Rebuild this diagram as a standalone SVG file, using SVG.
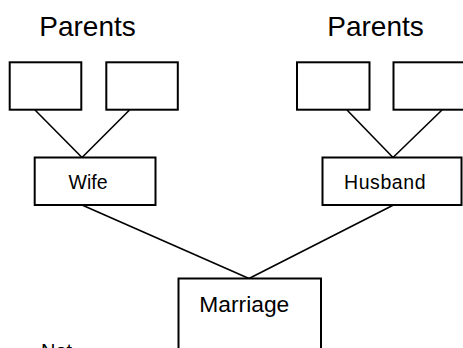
<svg xmlns="http://www.w3.org/2000/svg" width="463" height="348" viewBox="0 0 463 348">
<style>
.box{fill:#fff;stroke:#000;stroke-width:2}
.ln{stroke:#000;stroke-width:1.6;fill:none}
text{font-family:"Liberation Sans",Arial,sans-serif;fill:#000}
.h{font-size:28px;text-anchor:middle}
.l{font-size:19.5px}
</style>
<rect width="463" height="348" fill="#fff"/>
<g id="connectors">
<line class="ln" x1="35" y1="110" x2="82" y2="157.5"/>
<line class="ln" x1="129.5" y1="110" x2="82" y2="157.5"/>
<line class="ln" x1="347" y1="110" x2="393" y2="157.5"/>
<line class="ln" x1="442" y1="110" x2="393" y2="157.5"/>
<line class="ln" x1="82" y1="205" x2="249" y2="278.5"/>
<line class="ln" x1="393.5" y1="205" x2="249" y2="278.5"/>
</g>
<g id="parents-left-label"><text class="h" x="87.5" y="36">Parents</text></g>
<g id="parents-right-label"><text class="h" x="375.5" y="36">Parents</text></g>
<g id="wife-parent1"><rect class="box" x="9.7" y="62.3" width="71.6" height="47.4"/></g>
<g id="wife-parent2"><rect class="box" x="106.3" y="62.3" width="71.5" height="47.4"/></g>
<g id="husband-parent1"><rect class="box" x="297" y="62.3" width="72.5" height="47.4"/></g>
<g id="husband-parent2"><rect class="box" x="393.5" y="62.3" width="72.5" height="47.4"/></g>
<g id="wife"><rect class="box" x="34.7" y="157.5" width="120.8" height="47.5"/><text class="l" x="68.5" y="189">Wife</text></g>
<g id="husband"><rect class="box" x="322.5" y="157.5" width="139" height="47.5"/><text class="l" x="344" y="188.7" textLength="81.5">Husband</text></g>
<g id="marriage"><rect class="box" x="178.5" y="278.5" width="142.5" height="80"/><text class="l" x="199.3" y="311.7" style="font-size:22.8px">Marriage</text></g>
<g id="notes"><text class="l" x="41" y="358" style="font-size:20px">Not</text></g>
</svg>
